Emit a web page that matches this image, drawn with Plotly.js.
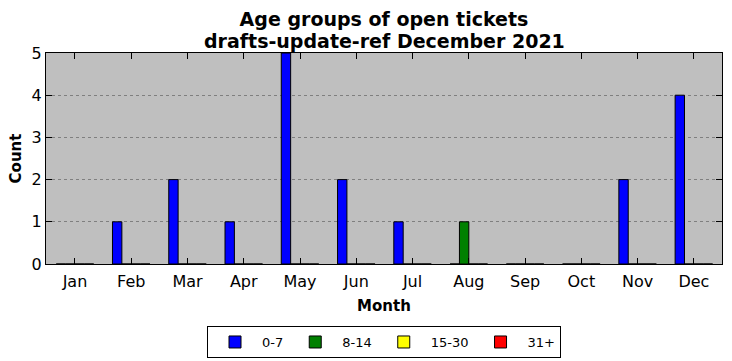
<!DOCTYPE html>
<html>
<head>
<meta charset="utf-8">
<script src="https://cdn.plot.ly/plotly-3.0.1.min.js"></script>
<style>html,body{margin:0;padding:0;background:#fff;}#chart{width:732px;height:361px;}</style>
</head>
<body>
<div id="chart"></div>
<script>
const months = ["Jan","Feb","Mar","Apr","May","Jun","Jul","Aug","Sep","Oct","Nov","Dec"];
const seriesNames = ["0-7","8-14","15-30","31+"];
const age0to7   = [0,1,2,1,5,2,1,0,0,0,2,4];
const age8to14  = [0,0,0,0,0,0,0,1,0,0,0,0];
const age15to30 = [0,0,0,0,0,0,0,0,0,0,0,0];
const age31plus = [0,0,0,0,0,0,0,0,0,0,0,0];
const seriesValues = [age0to7, age8to14, age15to30, age31plus];
const colors = ["#0000ff","#008000","#ffff00","#ff0000"];
const titleLine1 = "Age groups of open tickets";
const titleLine2 = "drafts-update-ref December 2021";

const w = 1/6;
const traces = seriesValues.map((vals, k) => ({
  type: "bar",
  name: seriesNames[k],
  x: months,
  y: vals,
  width: w,
  offset: -2*w + k*w,
  marker: {color: colors[k], line: {color: "#000", width: 1}},
  hoverinfo: "skip"
}));

const layout = {
  width: 732, height: 361,
  margin: {l: 46, r: 10, t: 53, b: 97, autoexpand: false},
  paper_bgcolor: "#fff",
  plot_bgcolor: "#bfbfbf",
  barmode: "overlay",
  showlegend: true,
  font: {family: "DejaVu Sans", size: 16, color: "#000"},
  title: {
    text: "<b>" + titleLine1 + "</b>",
    font: {family: "DejaVu Sans", size: 19, color: "#000"},
    x: 0.5, xanchor: "center", xref: "paper",
    y: 1 - 19/361, yref: "container", yanchor: "middle"
  },
  annotations: [{
    text: "<b>" + titleLine2 + "</b>",
    font: {family: "DejaVu Sans", size: 19, color: "#000"},
    xref: "paper", yref: "paper", x: 0.5, xanchor: "center",
    y: 1 + (53 - 41)/211, yanchor: "middle", showarrow: false
  }],
  xaxis: {
    type: "category",
    range: [-0.515, 11.5],
    automargin: false,
    tickfont: {family: "DejaVu Sans", size: 16, color: "#000"},
    ticks: "inside", ticklen: 6, tickcolor: "#000", tickwidth: 1,
    ticklabelstandoff: 3,
    mirror: "allticks", showline: true, linecolor: "#000", linewidth: 1,
    showgrid: false, zeroline: false,
    title: {text: "<b>Month</b>", font: {family: "DejaVu Sans", size: 15, color: "#000"}, standoff: 10}
  },
  yaxis: {
    range: [0, 5],
    tickvals: [0,1,2,3,4,5],
    automargin: false,
    tickfont: {family: "DejaVu Sans", size: 16, color: "#000"},
    ticks: "inside", ticklen: 6, tickcolor: "#000", tickwidth: 1,
    mirror: "allticks", showline: true, linecolor: "#000", linewidth: 1,
    showgrid: true, gridcolor: "#7f7f7f", griddash: "dot", gridwidth: 1,
    zeroline: false,
    title: {text: "<b>Count</b>", font: {family: "DejaVu Sans", size: 15, color: "#000"}, standoff: 6}
  },
  legend: {
    orientation: "h",
    x: 0.5, xanchor: "center",
    y: -0.294, yanchor: "top",
    bordercolor: "#000", borderwidth: 1, bgcolor: "#fff",
    font: {family: "DejaVu Sans", size: 13, color: "#000"},
    itemwidth: 44
  }
};

Plotly.newPlot("chart", traces, layout, {displayModeBar: false, staticPlot: true});
</script>
</body>
</html>
